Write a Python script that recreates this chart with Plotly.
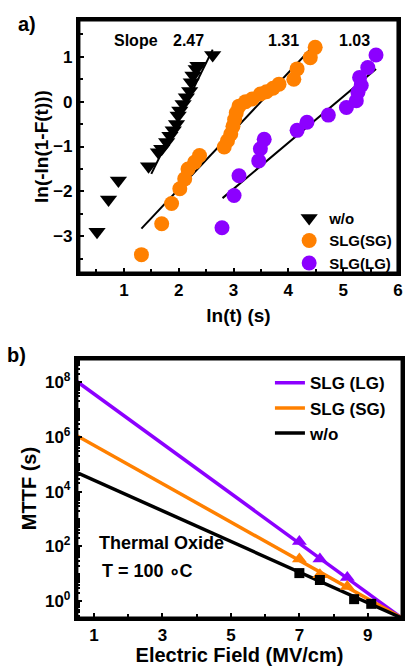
import plotly.graph_objects as go

FONT = "Liberation Sans, Arial, sans-serif"
PURPLE = "#8c00ff"
ORANGE = "#ff8000"

# ---------------- Panel a: Weibull plot ----------------
wo_lnt = [0.51, 0.72, 0.90, 1.45, 1.63, 1.69, 1.78, 1.84, 1.90, 1.96, 1.99, 2.02,
          2.08, 2.14, 2.20, 2.23, 2.26, 2.32, 2.35, 2.62]
wo_w = [-2.90, -2.18, -1.76, -1.44, -1.13, -1.05, -0.90, -0.76, -0.64, -0.50, -0.31,
        -0.20, -0.05, 0.10, 0.24, 0.43, 0.58, 0.73, 0.80, 1.04]

sg_lnt = [1.32, 1.69, 1.87, 2.02, 2.11, 2.17, 2.29, 2.38, 2.83, 2.89, 2.95, 2.99, 3.02,
          3.05, 3.10, 3.22, 3.34, 3.49, 3.60, 3.72, 3.83, 4.10, 4.16, 4.40, 4.49]
sg_w = [-3.41, -2.72, -2.27, -1.94, -1.72, -1.50, -1.35, -1.20, -1.01, -0.87, -0.72,
        -0.55, -0.40, -0.25, -0.10, 0.00, 0.06, 0.17, 0.22, 0.30, 0.39, 0.50, 0.73,
        0.98, 1.21]

lg_lnt = [2.79, 3.01, 3.10, 3.46, 3.49, 3.56, 4.16, 4.34, 4.73, 5.06, 5.24, 5.27,
          5.33, 5.30, 5.45, 5.60]
lg_w = [-2.81, -2.09, -1.65, -1.32, -1.05, -0.84, -0.64, -0.46, -0.30, -0.13, 0.02,
        0.21, 0.36, 0.54, 0.76, 1.04]

fit_wo_x = [1.50, 2.62]
fit_wo_y = [-1.61, 1.16]
fit_sg_x = [1.32, 4.49]
fit_sg_y = [-2.83, 1.28]
fit_lg_x = [2.80, 5.60]
fit_lg_y = [-2.15, 0.73]

slope_text = ["Slope", "2.47", "1.31", "1.03"]
slope_x = [1.23, 2.17, 3.92, 5.21]
slope_y = [1.36, 1.36, 1.36, 1.36]

# ---------------- Panel b: MTTF vs field ----------------
field_line = [0.5, 10.0]
mttf_line_lg = [1.05e8, 0.245]
mttf_line_sg = [1.10e6, 0.245]
mttf_line_wo = [5.0e4, 0.245]

lg_field = [7.0, 7.6, 8.4]
lg_mttf = [151, 34.7, 7.4]
sg_field = [7.0, 7.6, 8.4]
sg_mttf = [34.7, 9.3, 3.5]
wo_field = [7.0, 7.6, 8.6, 9.1]
wo_mttf = [10.7, 6.0, 1.2, 0.81]

fig = go.Figure()

for fx, fy in [(fit_wo_x, fit_wo_y), (fit_sg_x, fit_sg_y), (fit_lg_x, fit_lg_y)]:
    fig.add_trace(go.Scatter(x=fx, y=fy, mode="lines", line=dict(color="black", width=2),
                             showlegend=False, xaxis="x", yaxis="y", hoverinfo="skip"))

fig.add_trace(go.Scatter(x=wo_lnt, y=wo_w, mode="markers", name="w/o",
                         marker=dict(symbol="triangle-down", size=15, color="black"),
                         xaxis="x", yaxis="y", legend="legend"))
fig.add_trace(go.Scatter(x=sg_lnt, y=sg_w, mode="markers", name="SLG(SG)",
                         marker=dict(symbol="circle", size=15, color=ORANGE),
                         xaxis="x", yaxis="y", legend="legend"))
fig.add_trace(go.Scatter(x=lg_lnt, y=lg_w, mode="markers", name="SLG(LG)",
                         marker=dict(symbol="circle", size=15, color=PURPLE),
                         xaxis="x", yaxis="y", legend="legend"))

fig.add_trace(go.Scatter(x=field_line, y=mttf_line_lg, mode="lines", name="SLG (LG)",
                         line=dict(color=PURPLE, width=3.5), xaxis="x2", yaxis="y2",
                         legend="legend2"))
fig.add_trace(go.Scatter(x=field_line, y=mttf_line_sg, mode="lines", name="SLG (SG)",
                         line=dict(color=ORANGE, width=3.5), xaxis="x2", yaxis="y2",
                         legend="legend2"))
fig.add_trace(go.Scatter(x=field_line, y=mttf_line_wo, mode="lines", name="w/o",
                         line=dict(color="black", width=3.5), xaxis="x2", yaxis="y2",
                         legend="legend2"))
fig.add_trace(go.Scatter(x=lg_field, y=lg_mttf, mode="markers", showlegend=False,
                         marker=dict(symbol="triangle-up", size=13, color=PURPLE),
                         xaxis="x2", yaxis="y2"))
fig.add_trace(go.Scatter(x=sg_field, y=sg_mttf, mode="markers", showlegend=False,
                         marker=dict(symbol="triangle-up", size=13, color=ORANGE),
                         xaxis="x2", yaxis="y2"))
fig.add_trace(go.Scatter(x=wo_field, y=wo_mttf, mode="markers", showlegend=False,
                         marker=dict(symbol="square", size=10, color="black"),
                         xaxis="x2", yaxis="y2"))

tickfont = dict(family=FONT, size=17, color="black", weight="bold")
titlefont = dict(family=FONT, size=19, color="black", weight="bold")
common = dict(showline=True, linewidth=3, linecolor="black", mirror=True,
              showgrid=False, zeroline=False, ticks="inside", ticklen=5,
              tickwidth=2, tickcolor="black", tickfont=tickfont)

fig.update_layout(
    width=414, height=666, autosize=False,
    margin=dict(l=0, r=0, t=0, b=0),
    paper_bgcolor="white", plot_bgcolor="white",
    font=dict(family=FONT, color="black"),
    xaxis=dict(domain=[0.193, 0.973], range=[0.18, 6.0], tickmode="linear", tick0=0, dtick=1,
               minor=dict(ticks="inside", ticklen=4, tickwidth=2, tickcolor="black",
                          dtick=0.5, tick0=0),
               title=dict(text="ln(t) (s)", font=titlefont, standoff=10),
               anchor="y", **common),
    yaxis=dict(domain=[0.590, 0.970], range=[-3.82, 1.82], tickmode="linear", tick0=0, dtick=1,
               minor=dict(ticks="inside", ticklen=4, tickwidth=2, tickcolor="black",
                          dtick=0.5, tick0=0),
               title=dict(text="ln(-ln(1-F(t)))", font=titlefont, standoff=0),
               anchor="x", **common),
    xaxis2=dict(domain=[0.188, 0.983], range=[0.5, 10.0], tickmode="linear", tick0=1, dtick=2,
                minor=dict(ticks="inside", ticklen=4, tickwidth=2, tickcolor="black",
                           dtick=1, tick0=0),
                title=dict(text="Electric Field (MV/cm)", font=dict(family=FONT, size=20, color="black", weight="bold"), standoff=4),
                anchor="y2", **common),
    yaxis2=dict(domain=[0.072, 0.461], type="log", range=[-0.61, 8.84],
                tickvals=[1, 1e2, 1e4, 1e6, 1e8],
                ticktext=["10<sup>0</sup>", "10<sup>2</sup>", "10<sup>4</sup>",
                          "10<sup>6</sup>", "10<sup>8</sup>"],
                minor=dict(ticks="inside", ticklen=3, tickwidth=2, tickcolor="black",
                           dtick="D1"),
                title=dict(text="MTTF (s)", font=dict(family=FONT, size=20, color="black", weight="bold"), standoff=3),
                anchor="x2", **common),
    legend=dict(x=0.707, y=0.697, xanchor="left", yanchor="top",
                bgcolor="rgba(0,0,0,0)", font=dict(family=FONT, size=15, color="black", weight="bold"),
                itemsizing="trace", tracegroupgap=0),
    legend2=dict(x=0.66, y=0.4515, xanchor="left", yanchor="top",
                 bgcolor="rgba(0,0,0,0)", font=dict(family=FONT, size=17, color="black", weight="bold"),
                 tracegroupgap=0),
    shapes=[
        dict(type="rect", xref="x domain", yref="y domain", x0=0, x1=1, y0=0, y1=1,
             line=dict(color="black", width=3), fillcolor="rgba(0,0,0,0)", layer="above"),
        dict(type="rect", xref="x2 domain", yref="y2 domain", x0=0, x1=1, y0=0, y1=1,
             line=dict(color="black", width=3), fillcolor="rgba(0,0,0,0)", layer="above"),
    ],
)

ann = []
for t, x, y in zip(slope_text, slope_x, slope_y):
    ann.append(dict(text=t, x=x, y=y, xref="x", yref="y", showarrow=False,
                    font=dict(family=FONT, size=16, color="black", weight="bold")))
ann.append(dict(text="a)", x=27 / 414, y=1 - 24 / 666, xref="paper", yref="paper",
                xanchor="center", yanchor="middle", showarrow=False,
                font=dict(family=FONT, size=20, color="black", weight="bold")))
ann.append(dict(text="b)", x=17 / 414, y=1 - 355 / 666, xref="paper", yref="paper",
                xanchor="center", yanchor="middle", showarrow=False,
                font=dict(family=FONT, size=20, color="black", weight="bold")))
ann.append(dict(text="Thermal Oxide", x=98 / 414, y=1 - 542.7 / 666, xref="paper",
                yref="paper", xanchor="left", yanchor="middle", showarrow=False,
                font=dict(family=FONT, size=18, color="black", weight="bold")))
ann.append(dict(text="T = 100 \u2218C", x=101.7 / 414, y=1 - 570.7 / 666, xref="paper",
                yref="paper", xanchor="left", yanchor="middle", showarrow=False,
                font=dict(family=FONT, size=18, color="black", weight="bold")))
fig.update_layout(annotations=ann)

page_js = r"""
document.body.style.margin='0px';
(function(){
var gd=document.getElementById('{plot_id}');
var data=JSON.parse(JSON.stringify(gd.data));
var lay=JSON.parse(JSON.stringify(gd.layout));
Plotly.newPlot(gd, data, lay, {displayModeBar:false});
})();
"""

fig.write_html("out.html", post_script=page_js, config={"displayModeBar": False})
